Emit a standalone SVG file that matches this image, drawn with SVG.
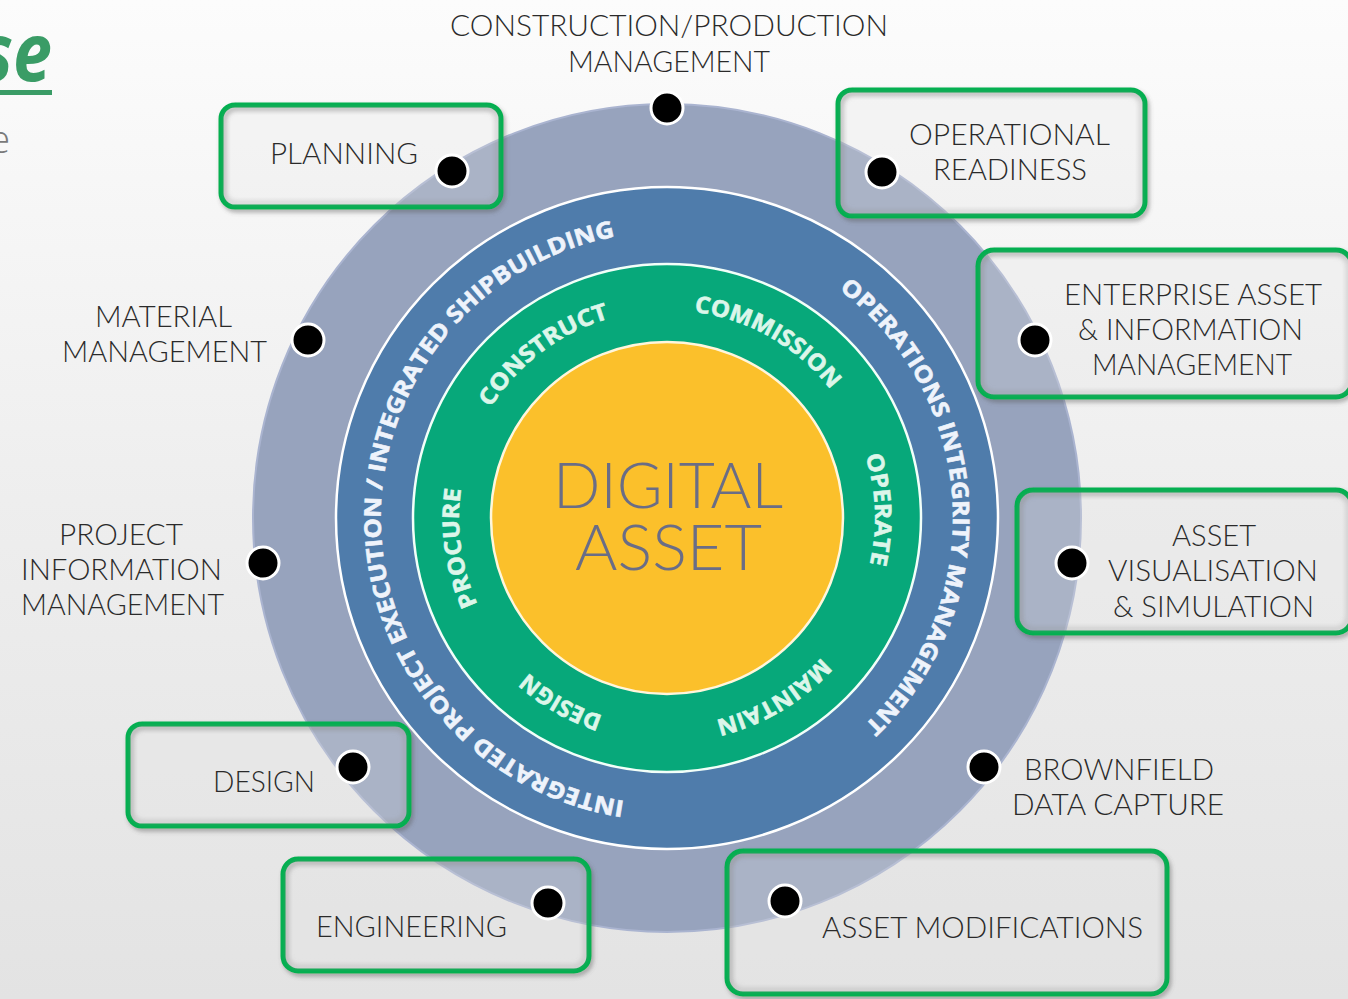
<svg xmlns="http://www.w3.org/2000/svg" width="1348" height="999" viewBox="0 0 1348 999">
<defs>
<linearGradient id="bg" x1="0" y1="0" x2="0" y2="1">
<stop offset="0" stop-color="#fcfcfc"/>
<stop offset="0.5" stop-color="#eeeeee"/>
<stop offset="1" stop-color="#e3e3e3"/>
</linearGradient>
<filter id="sh" x="-10%" y="-10%" width="120%" height="130%">
<feDropShadow dx="2" dy="3" stdDeviation="2" flood-color="#555" flood-opacity="0.45"/>
</filter>
<filter id="blur" x="-10%" y="-10%" width="120%" height="120%">
<feGaussianBlur stdDeviation="2.5"/>
</filter>
<path id="pBlueL" d="M624.7,800.9 A286,286 0 0 1 619.8,235.9"/>
<path id="pBlueR" d="M839.1,289.6 A286,286 0 0 1 862.1,727.2"/>
<path id="pConstruct" d="M490.6,407.8 A208,208 0 0 1 611.4,317.6"/>
<path id="pCommission" d="M694.1,311.8 A208,208 0 0 1 832.0,391.4"/>
<path id="pOperate" d="M865.4,455.5 A208,208 0 0 1 869.3,566.5"/>
<path id="pMaintain" d="M821.6,657.2 A208,208 0 0 1 713.8,720.7"/>
<path id="pDesign" d="M602.7,715.8 A208,208 0 0 1 526.5,671.4"/>
<path id="pProcure" d="M477.7,604.3 A208,208 0 0 1 461.3,487.3"/>
</defs>
<style>
.lbl{font-family:Lato,"Liberation Sans",sans-serif;font-weight:300;font-size:29px;fill:#2a2a2a;text-anchor:middle}
.big{font-family:Lato,"Liberation Sans",sans-serif;font-weight:300;font-size:64px;fill:#6a6d86;text-anchor:middle}
.ringB{font-family:"Open Sans","Liberation Sans",sans-serif;font-weight:700;font-size:23px;fill:#eef3fb;stroke:#eef3fb;stroke-width:0.6}
.ringG{font-family:"Open Sans","Liberation Sans",sans-serif;font-weight:700;font-size:23px;fill:#dcf6ea;stroke:#dcf6ea;stroke-width:0.6}
.box{fill:#ffffff;fill-opacity:0.18;stroke:#00b04f;stroke-width:5;filter:url(#sh)}
.inner{fill:none;stroke:#8a8a8a;stroke-opacity:0.45;stroke-width:3;filter:url(#blur)}
.dot{fill:#000;stroke:#fff;stroke-width:3}
</style>
<rect x="0" y="0" width="1348" height="999" fill="url(#bg)"/>

<g id="title">
<text x="52" y="81" font-family="'Open Sans','Liberation Sans',sans-serif" font-weight="700" font-style="italic" font-size="80" fill="#3a9c66" text-anchor="end" textLength="72" lengthAdjust="spacingAndGlyphs">se</text>
<rect x="0" y="90" width="52" height="5" fill="#3a9c66"/>
<text x="10" y="153" font-family="'Open Sans','Liberation Sans',sans-serif" font-weight="300" font-size="38" fill="#7a7a7a" text-anchor="end">e</text>
</g>

<g id="rings">
<circle cx="667" cy="518" r="414" fill="#97a3bd" stroke="#aab4d0" stroke-width="2"/>
<circle cx="667" cy="518" r="331" fill="#4f7cab" stroke="#ffffff" stroke-width="2.5"/>
<circle cx="667" cy="518" r="254" fill="#07a87a" stroke="#f2fff9" stroke-width="2.5"/>
<circle cx="667" cy="518" r="176" fill="#fbc02b" stroke="#fff6dc" stroke-width="2.5"/>
<text class="ringB"><textPath href="#pBlueL" textLength="804" lengthAdjust="spacingAndGlyphs">INTEGRATED PROJECT EXECUTION / INTEGRATED SHIPBUILDING</textPath></text>
<text class="ringB"><textPath href="#pBlueR" textLength="496" lengthAdjust="spacingAndGlyphs">OPERATIONS INTEGRITY MANAGEMENT</textPath></text>
<text class="ringG"><textPath href="#pConstruct" textLength="152" lengthAdjust="spacingAndGlyphs">CONSTRUCT</textPath></text>
<text class="ringG"><textPath href="#pCommission" textLength="161" lengthAdjust="spacingAndGlyphs">COMMISSION</textPath></text>
<text class="ringG"><textPath href="#pOperate" textLength="110" lengthAdjust="spacingAndGlyphs">OPERATE</textPath></text>
<text class="ringG"><textPath href="#pMaintain" textLength="125" lengthAdjust="spacingAndGlyphs">MAINTAIN</textPath></text>
<text class="ringG"><textPath href="#pDesign" textLength="87" lengthAdjust="spacingAndGlyphs">DESIGN</textPath></text>
<text class="ringG"><textPath href="#pProcure" textLength="118" lengthAdjust="spacingAndGlyphs">PROCURE</textPath></text>
<text class="big" x="668" y="508" textLength="230" lengthAdjust="spacingAndGlyphs">DIGITAL</text>
<text class="big" x="668.5" y="570" textLength="187" lengthAdjust="spacingAndGlyphs">ASSET</text>
</g>

<g id="construction">
<text class="lbl" x="669" y="36" textLength="438" lengthAdjust="spacingAndGlyphs">CONSTRUCTION/PRODUCTION</text>
<text class="lbl" x="669" y="72" textLength="202" lengthAdjust="spacingAndGlyphs">MANAGEMENT</text>
<circle class="dot" cx="667" cy="108" r="16"/>
</g>

<g id="planning">
<rect class="box" x="221" y="105" width="280" height="102" rx="14"/>
<rect class="inner" x="225" y="109" width="272" height="94" rx="11"/>
<text class="lbl" x="344" y="164" textLength="148" lengthAdjust="spacingAndGlyphs">PLANNING</text>
<circle class="dot" cx="452" cy="171" r="16"/>
</g>

<g id="operational-readiness">
<rect class="box" x="838" y="90" width="307" height="126" rx="14"/>
<rect class="inner" x="842" y="94" width="299" height="118" rx="11"/>
<text class="lbl" x="1009.5" y="145" textLength="201" lengthAdjust="spacingAndGlyphs">OPERATIONAL</text>
<text class="lbl" x="1010" y="180" textLength="154" lengthAdjust="spacingAndGlyphs">READINESS</text>
<circle class="dot" cx="882" cy="172" r="16"/>
</g>

<g id="material-management">
<text class="lbl" x="163.5" y="327" textLength="137" lengthAdjust="spacingAndGlyphs">MATERIAL</text>
<text class="lbl" x="164.5" y="362" textLength="205" lengthAdjust="spacingAndGlyphs">MANAGEMENT</text>
<circle class="dot" cx="308" cy="340" r="16"/>
</g>

<g id="enterprise-asset">
<rect class="box" x="978" y="250" width="374" height="147" rx="16"/>
<rect class="inner" x="982" y="254" width="366" height="139" rx="13"/>
<text class="lbl" x="1193" y="305" textLength="258" lengthAdjust="spacingAndGlyphs">ENTERPRISE ASSET</text>
<text class="lbl" x="1190.5" y="340" textLength="225" lengthAdjust="spacingAndGlyphs">&amp; INFORMATION</text>
<text class="lbl" x="1192" y="375" textLength="200" lengthAdjust="spacingAndGlyphs">MANAGEMENT</text>
<circle class="dot" cx="1035" cy="340" r="16"/>
</g>

<g id="project-information">
<text class="lbl" x="121" y="545" textLength="124" lengthAdjust="spacingAndGlyphs">PROJECT</text>
<text class="lbl" x="121.5" y="580" textLength="201" lengthAdjust="spacingAndGlyphs">INFORMATION</text>
<text class="lbl" x="122.5" y="615" textLength="203" lengthAdjust="spacingAndGlyphs">MANAGEMENT</text>
<circle class="dot" cx="263" cy="563" r="16"/>
</g>

<g id="asset-visualisation">
<rect class="box" x="1017" y="490" width="335" height="143" rx="16"/>
<rect class="inner" x="1021" y="494" width="327" height="135" rx="13"/>
<text class="lbl" x="1214" y="546" textLength="84" lengthAdjust="spacingAndGlyphs">ASSET</text>
<text class="lbl" x="1213" y="581" textLength="210" lengthAdjust="spacingAndGlyphs">VISUALISATION</text>
<text class="lbl" x="1213.5" y="617" textLength="201" lengthAdjust="spacingAndGlyphs">&amp; SIMULATION</text>
<circle class="dot" cx="1072" cy="563" r="16"/>
</g>

<g id="design">
<rect class="box" x="128" y="724" width="281" height="102" rx="14"/>
<rect class="inner" x="132" y="728" width="273" height="94" rx="11"/>
<text class="lbl" x="264" y="792" textLength="102" lengthAdjust="spacingAndGlyphs">DESIGN</text>
<circle class="dot" cx="353" cy="767" r="16"/>
</g>

<g id="brownfield">
<text class="lbl" x="1119" y="780" textLength="190" lengthAdjust="spacingAndGlyphs">BROWNFIELD</text>
<text class="lbl" x="1118" y="815" textLength="212" lengthAdjust="spacingAndGlyphs">DATA CAPTURE</text>
<circle class="dot" cx="984" cy="767" r="16"/>
</g>

<g id="engineering">
<rect class="box" x="283" y="859" width="306" height="112" rx="15"/>
<rect class="inner" x="287" y="863" width="298" height="104" rx="12"/>
<text class="lbl" x="411.5" y="937" textLength="191" lengthAdjust="spacingAndGlyphs">ENGINEERING</text>
<circle class="dot" cx="548" cy="903" r="16"/>
</g>

<g id="asset-modifications">
<rect class="box" x="727" y="851" width="440" height="143" rx="16"/>
<rect class="inner" x="731" y="855" width="432" height="135" rx="13"/>
<text class="lbl" x="982.5" y="938" textLength="321" lengthAdjust="spacingAndGlyphs">ASSET MODIFICATIONS</text>
<circle class="dot" cx="785" cy="901" r="16"/>
</g>
</svg>
